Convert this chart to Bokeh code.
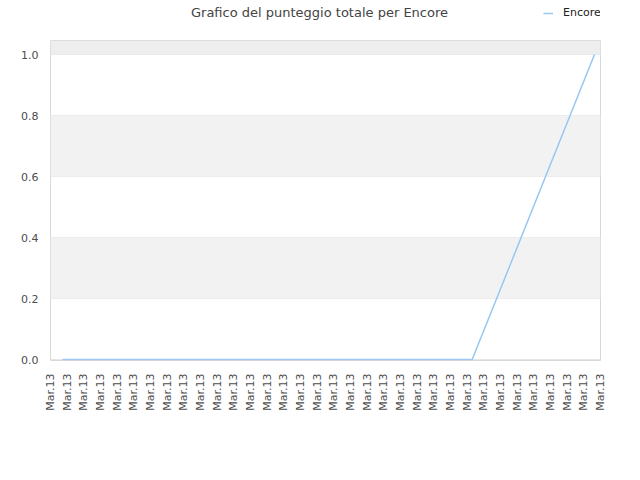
import math
from bokeh.plotting import figure
from bokeh.layouts import column
from bokeh.models import (FixedTicker, Range1d, Label, Legend, LegendItem,
                          BoxAnnotation)
from bokeh.embed import file_html
from bokeh.resources import INLINE

# ---- data ----
tick_positions = list(range(34))
tick_labels = ["Mar.13"] * 34
x_vals = [0.72, 25.3, 32.64]
scores = [0.0, 0.0, 1.0]
y_ticks = [0.0, 0.2, 0.4, 0.6, 0.8, 1.0]
y_tick_labels = ["0.0", "0.2", "0.4", "0.6", "0.8", "1.0"]
series_name = "Encore"
title_text = "Grafico del punteggio totale per Encore"

FONT = "DejaVu Sans"
LINE_COLOR = "#99c6f3"
W = 624
HEAD_H = 40
MAIN_H = 424

# ---- header (title + legend); its frame is aligned with the chart frame ----
# header coordinates: x = pixel column, y = 100 + pixel row (rows flipped)
header = figure(width=W, height=HEAD_H, output_backend="svg", toolbar_location=None,
                x_range=Range1d(50, 600), y_range=Range1d(100 + HEAD_H, 100),
                x_axis_location=None, y_axis_location=None,
                min_border_left=0, min_border_right=0, min_border_top=0,
                min_border_bottom=0, outline_line_color=None,
                background_fill_color="white", border_fill_color="white")
header.grid.visible = False
# same series drawn here only to provide the legend swatch (falls outside the view)
hr = header.line(x_vals, scores, line_color=LINE_COLOR, line_width=1.5)
legend = Legend(items=[LegendItem(label=series_name, renderers=[hr])],
                location=(493, 21), padding=0, margin=0, spacing=0,
                glyph_width=10, glyph_height=12, label_height=12,
                label_standoff=10, label_text_font=FONT,
                label_text_font_size="11px", label_text_color="#222222",
                border_line_alpha=0, background_fill_alpha=0)
header.add_layout(legend, "center")
header.add_layout(Label(x=319, y=112, text=title_text, text_font=FONT,
                        text_font_size="13px", text_color="#444444",
                        text_align="center", text_baseline="middle"))

# ---- main chart ----
p = figure(width=W, height=MAIN_H, output_backend="svg", toolbar_location=None,
           x_range=Range1d(0, 33), y_range=Range1d(-0.003, 1.046),
           min_border_left=50, min_border_right=24, min_border_top=0,
           min_border_bottom=104, background_fill_color="white",
           border_fill_color="white")
p.outline_line_color = "#d8d8d8"

p.xgrid.visible = False
p.ygrid.ticker = FixedTicker(ticks=y_ticks)
p.ygrid.grid_line_color = "#e6e6e6"
for lo, hi, col in [(0.2, 0.4, "#f2f2f2"), (0.6, 0.8, "#f2f2f2"), (1.0, None, "#eeeeee")]:
    p.add_layout(BoxAnnotation(bottom=lo, top=hi, fill_color=col, fill_alpha=1.0,
                               line_alpha=0, level="underlay"))

p.yaxis.ticker = FixedTicker(ticks=y_ticks)
p.yaxis.major_label_overrides = {t: l for t, l in zip(y_ticks, y_tick_labels)}
p.xaxis.ticker = FixedTicker(ticks=tick_positions)
p.xaxis.major_label_overrides = {t: l for t, l in zip(tick_positions, tick_labels)}
p.xaxis.major_label_orientation = math.pi / 2
for ax in (p.xaxis[0], p.yaxis[0]):
    ax.axis_line_color = None
    ax.major_tick_line_color = None
    ax.minor_tick_line_color = None
    ax.major_tick_out = 0
    ax.major_tick_in = 0
    ax.minor_tick_out = 0
    ax.major_label_text_font = FONT
    ax.major_label_text_font_size = "11px"
    ax.major_label_text_color = "#4d4d4d"
p.yaxis.major_label_standoff = 12
p.xaxis.major_label_standoff = 13

p.line(x_vals, scores, line_color=LINE_COLOR, line_width=1.5)

layout = column(header, p, spacing=0)
open("out.html", "w").write(file_html(layout, INLINE))
